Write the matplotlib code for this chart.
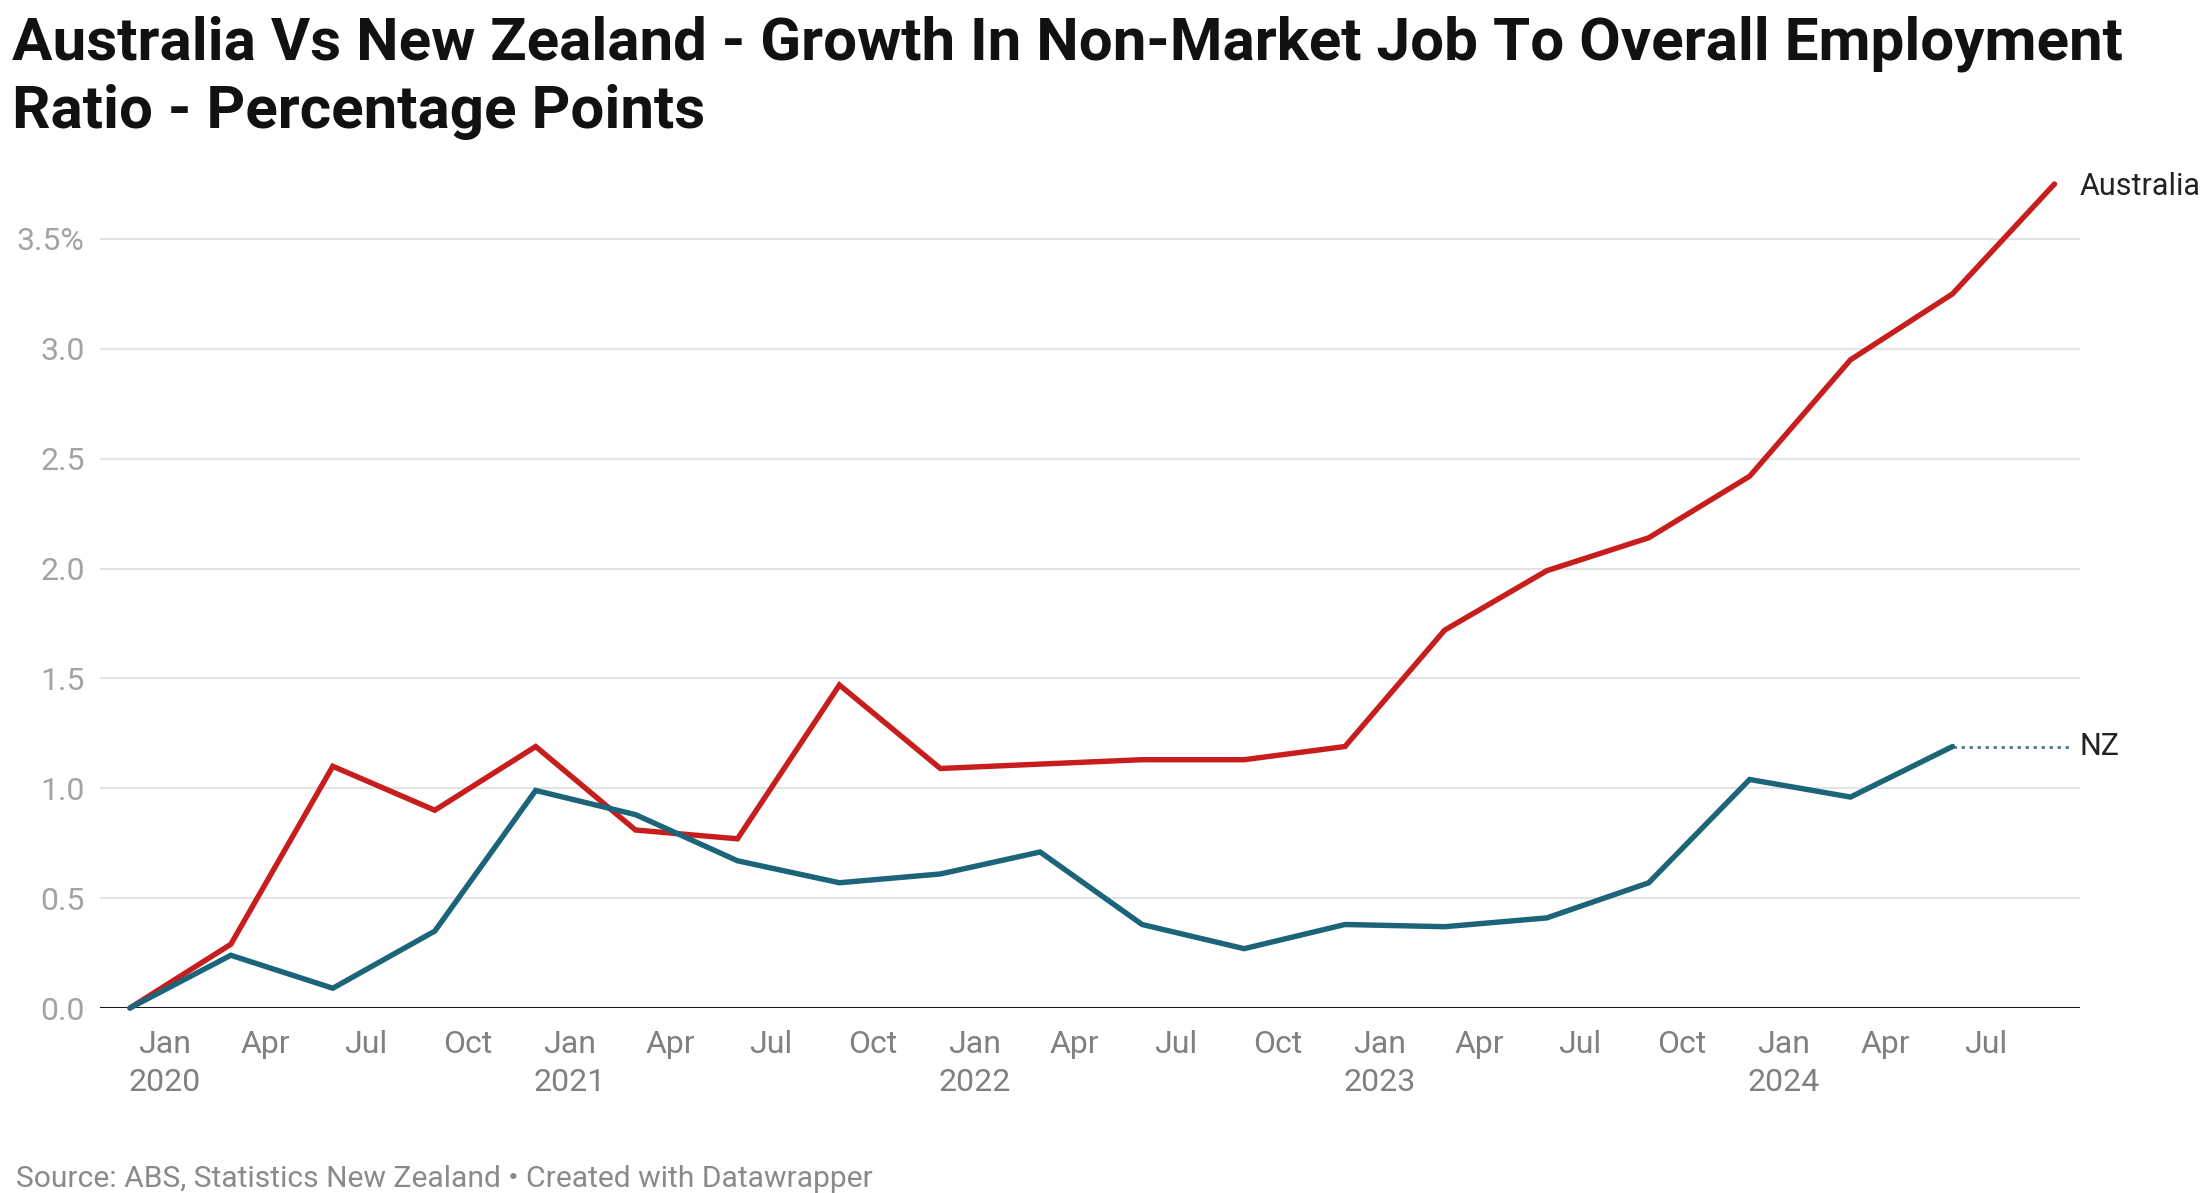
import matplotlib
matplotlib.use("Agg")
import matplotlib.pyplot as plt
import matplotlib.dates as mdates
import pandas as pd

# quarterly readings, percentage points since Dec 2019
quarters = ["2019-12-01", "2020-03-01", "2020-06-01", "2020-09-01",
            "2020-12-01", "2021-03-01", "2021-06-01", "2021-09-01",
            "2021-12-01", "2022-03-01", "2022-06-01", "2022-09-01",
            "2022-12-01", "2023-03-01", "2023-06-01", "2023-09-01",
            "2023-12-01", "2024-03-01", "2024-06-01", "2024-09-01"]
australia = [0.0, 0.29, 1.10, 0.90, 1.19, 0.81, 0.77, 1.47, 1.09, 1.11,
             1.13, 1.13, 1.19, 1.72, 1.99, 2.14, 2.42, 2.95, 3.25, 3.75]
nz = [0.0, 0.24, 0.09, 0.35, 0.99, 0.88, 0.67, 0.57, 0.61, 0.71,
      0.38, 0.27, 0.38, 0.37, 0.41, 0.57, 1.04, 0.96, 1.19]

yticks = [0.0, 0.5, 1.0, 1.5, 2.0, 2.5, 3.0, 3.5]
ytick_labels = ["0.0", "0.5", "1.0", "1.5", "2.0", "2.5", "3.0", "3.5%"]
xtick_dates = pd.date_range("2020-01-01", "2024-07-01", freq="QS")

title_lines = ["Australia Vs New Zealand - Growth In Non-Market Job To Overall Employment",
               "Ratio - Percentage Points"]
source = "Source: ABS, Statistics New Zealand \u2022 Created with Datawrapper"

RED = "#c71e1d"
BLUE = "#1b6479"

plt.rcParams['font.family'] = ['Roboto', 'DejaVu Sans']

dates = pd.to_datetime(quarters)

fig = plt.figure(figsize=(22.08, 11.93), dpi=100)
ax = fig.add_axes([100/2208, 1 - 1008/1193, 1980/2208, 824/1193])

ax.set_xlim(pd.Timestamp("2019-11-04"), pd.Timestamp("2024-09-24"))
ax.set_ylim(0, 3.75)

for y in yticks[1:]:
    ax.axhline(y, color="#e3e3e3", lw=1.5, zorder=1)
ax.axhline(0, color="#1a1a1a", lw=2.2, zorder=2)

ax.plot(dates, australia, color=RED, lw=3.9, zorder=4, solid_capstyle="round",
        solid_joinstyle="miter", clip_on=False)
ax.plot(dates[:len(nz)], nz, color=BLUE, lw=3.9, zorder=4, solid_capstyle="round",
        solid_joinstyle="miter", clip_on=False)

# dotted extension of NZ to the label
x_end = ax.get_xlim()[1] - 9
ax.plot([mdates.date2num(dates[len(nz) - 1]), x_end], [nz[-1], nz[-1]],
        color="#3f7589", lw=1.8, ls=(0, (1.4, 1.8)), zorder=3)

ax.annotate("Australia", xy=(1.0, australia[-1]), xycoords=("axes fraction", "data"),
            xytext=(0, -2), textcoords="offset points",
            ha="left", va="center", fontsize=22, color="#222222")
ax.annotate("NZ", xy=(1.0, nz[-1]), xycoords=("axes fraction", "data"),
            ha="left", va="center", fontsize=22, color="#222222")

ax.set_yticks(yticks)
ax.set_yticklabels(ytick_labels)
ax.tick_params(axis="y", length=0, pad=11, labelsize=23, labelcolor="#a3a3a3")

xlabels = []
for d in xtick_dates:
    lab = d.strftime("%b")
    if d.month == 1:
        lab += "\n" + str(d.year)
    xlabels.append(lab)
ax.set_xticks(xtick_dates)
ax.set_xticklabels(xlabels, linespacing=1.4, va="top")
ax.tick_params(axis="x", length=0, pad=16, labelsize=23, labelcolor="#808080")

for s in ax.spines.values():
    s.set_visible(False)

for i, line in enumerate(title_lines):
    fig.text(12/2208, 1 - (60 + 68 * i)/1193, line, fontsize=43.3, fontweight="bold",
             va="baseline", ha="left", color="#111111")
fig.text(16/2208, 1 - 1187/1193, source, fontsize=21.6, color="#8a8a8a",
         va="baseline", ha="left")

fig.savefig("out.png", dpi=100)
